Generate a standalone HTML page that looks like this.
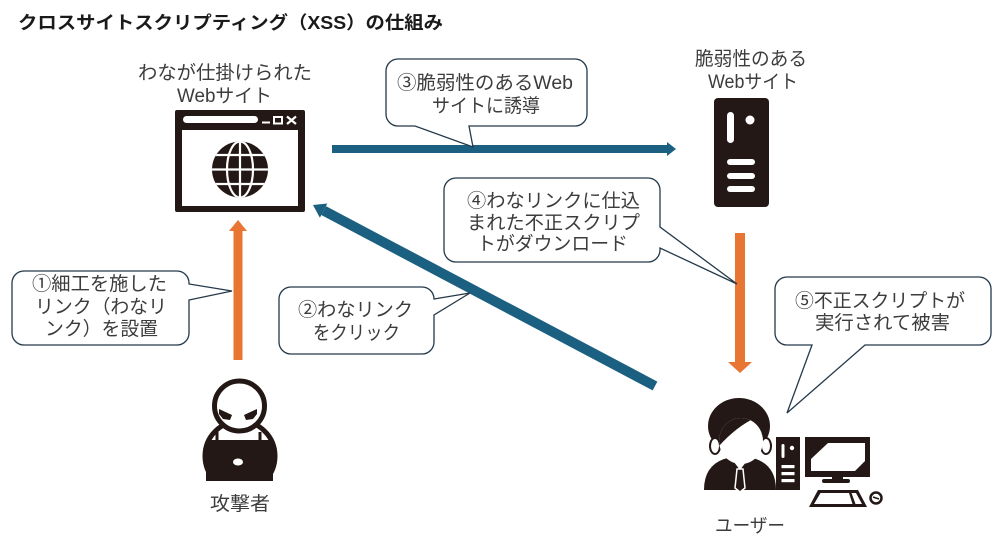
<!DOCTYPE html>
<html><head><meta charset="utf-8">
<style>
html,body{margin:0;padding:0;background:#fff;}
svg{display:block;}
text{font-family:"Liberation Sans","Noto Sans CJK JP",sans-serif;fill:#3c3c3c;}
</style></head>
<body>
<svg width="1000" height="546" viewBox="0 0 1000 546" xmlns="http://www.w3.org/2000/svg">
<defs>
<clipPath id="globe"><circle cx="240" cy="169.5" r="28"/></clipPath>
<clipPath id="bodyclip"><rect x="190" y="380" width="100" height="101"/></clipPath>
<clipPath id="face"><ellipse cx="741" cy="441" rx="22" ry="23"/></clipPath>
</defs>
<rect width="1000" height="546" fill="#fff"/>

<!-- Title -->
<text x="18" y="29" font-size="18" font-weight="bold" textLength="425" lengthAdjust="spacingAndGlyphs" style="fill:#1a1a1a">クロスサイトスクリプティング（XSS）の仕組み</text>

<!-- Labels -->
<text x="138" y="79" font-size="19" textLength="174" lengthAdjust="spacingAndGlyphs">わなが仕掛けられた</text>
<text x="177" y="102" font-size="19" textLength="95" lengthAdjust="spacingAndGlyphs">Webサイト</text>
<text x="695" y="65" font-size="19" textLength="112" lengthAdjust="spacingAndGlyphs">脆弱性のある</text>
<text x="708" y="88" font-size="19" textLength="90" lengthAdjust="spacingAndGlyphs">Webサイト</text>

<!-- Browser icon -->
<rect x="175" y="110" width="130" height="102" rx="2" fill="#231815"/>
<rect x="182" y="130" width="116" height="76" fill="#fff"/>
<rect x="183" y="116" width="75" height="7" rx="3.5" fill="#fff"/>
<rect x="262" y="121.5" width="8" height="2" fill="#fff"/>
<rect x="274" y="117" width="8" height="6.5" fill="none" stroke="#fff" stroke-width="2"/>
<path d="M287,116.5 L296,124 M296,116.5 L287,124" stroke="#fff" stroke-width="2.2"/>
<circle cx="240" cy="169.5" r="28" fill="#231815"/>
<g clip-path="url(#globe)" stroke="#fff" stroke-width="2.2" fill="none">
<line x1="205" y1="155" x2="275" y2="155"/>
<line x1="205" y1="169.5" x2="275" y2="169.5"/>
<line x1="205" y1="184" x2="275" y2="184"/>
<line x1="240" y1="138" x2="240" y2="200"/>
<ellipse cx="240" cy="169.5" rx="13" ry="28"/>
</g>

<!-- Server icon -->
<rect x="714" y="98" width="55" height="109" rx="4" fill="#231815"/>
<rect x="727" y="112" width="7" height="31" rx="3.5" fill="#fff"/>
<circle cx="750" cy="120" r="4.5" fill="#fff"/>
<rect x="727" y="159" width="28" height="6" rx="3" fill="#fff"/>
<rect x="727" y="173" width="28" height="6" rx="3" fill="#fff"/>
<rect x="727" y="186" width="28" height="6" rx="3" fill="#fff"/>

<!-- Blue horizontal arrow -->
<line x1="332" y1="149" x2="668" y2="149" stroke="#1b5f81" stroke-width="8"/>
<polygon points="667,142 676,149 667,156" fill="#1b5f81"/>

<!-- Blue diagonal arrow -->
<line x1="655" y1="386" x2="323.6" y2="210.6" stroke="#1b5f81" stroke-width="10"/>
<polygon points="313,205 327.3,203.5 319.9,217.7" fill="#1b5f81"/>

<!-- Orange up arrow -->
<line x1="238" y1="360" x2="238" y2="230" stroke="#e97532" stroke-width="9"/>
<polygon points="229,231 238,220 247,231" fill="#e97532"/>

<!-- Orange down arrow -->
<line x1="740" y1="233" x2="740" y2="363" stroke="#e97532" stroke-width="10"/>
<polygon points="728,362 752,362 740,373" fill="#e97532"/>

<!-- Bubbles -->
<g fill="#fff" stroke="#24394a" stroke-width="1.3" stroke-linejoin="miter">
<path d="M24,271 H177 A12,12 0 0 1 189,283 L189,284 L232,291 L189,300 V333 A12,12 0 0 1 177,345 H24 A12,12 0 0 1 12,333 V283 A12,12 0 0 1 24,271 Z"/>
<path d="M291,287 H422 A12,12 0 0 1 434,299 L470,293 L434,315 V342 A12,12 0 0 1 422,354 H291 A12,12 0 0 1 279,342 V299 A12,12 0 0 1 291,287 Z"/>
<path d="M398,59 H575 A12,12 0 0 1 587,71 V114 A12,12 0 0 1 575,126 H469 L473,147 L415,126 H398 A12,12 0 0 1 386,114 V71 A12,12 0 0 1 398,59 Z"/>
<path d="M456,178 H648 A12,12 0 0 1 660,190 V227 L737,284 L660,248 V250 A12,12 0 0 1 648,262 H456 A12,12 0 0 1 444,250 V190 A12,12 0 0 1 456,178 Z"/>
<path d="M787,277 H979 A12,12 0 0 1 991,289 V333 A12,12 0 0 1 979,345 H865 L787,413 L812,345 H787 A12,12 0 0 1 775,333 V289 A12,12 0 0 1 787,277 Z"/>
</g>

<!-- Bubble texts -->
<text x="32" y="290" font-size="19" textLength="135" lengthAdjust="spacingAndGlyphs">①細工を施した</text>
<text x="35" y="313" font-size="19" textLength="132" lengthAdjust="spacingAndGlyphs">リンク（わなリ</text>
<text x="45" y="335" font-size="19" textLength="113" lengthAdjust="spacingAndGlyphs">ンク）を設置</text>

<text x="298" y="316" font-size="19" textLength="115" lengthAdjust="spacingAndGlyphs">②わなリンク</text>
<text x="313" y="339" font-size="19" textLength="87" lengthAdjust="spacingAndGlyphs">をクリック</text>

<text x="397" y="89" font-size="19" textLength="176" lengthAdjust="spacingAndGlyphs">③脆弱性のあるWeb</text>
<text x="432" y="112" font-size="19" textLength="108" lengthAdjust="spacingAndGlyphs">サイトに誘導</text>

<text x="467" y="207" font-size="19" textLength="173" lengthAdjust="spacingAndGlyphs">④わなリンクに仕込</text>
<text x="467" y="229" font-size="19" textLength="173" lengthAdjust="spacingAndGlyphs">まれた不正スクリプ</text>
<text x="477" y="250" font-size="19" textLength="151" lengthAdjust="spacingAndGlyphs">トがダウンロード</text>

<text x="795" y="307" font-size="19" textLength="170" lengthAdjust="spacingAndGlyphs">⑤不正スクリプトが</text>
<text x="815" y="329" font-size="19" textLength="135" lengthAdjust="spacingAndGlyphs">実行されて被害</text>

<!-- Attacker -->
<g clip-path="url(#bodyclip)">
<circle cx="240" cy="456" r="35" fill="#ffffff" stroke="#231815" stroke-width="5"/>
</g>
<circle cx="239.5" cy="406" r="25" fill="#ffffff" stroke="#231815" stroke-width="5"/>
<polygon points="219,409 232,415 230,420 223,419 219,414" fill="#231815"/>
<polygon points="257,409 244,415 246,420 253,419 257,414" fill="#231815"/>
<rect x="206" y="440" width="67" height="41" fill="#231815"/>
<rect x="215.5" y="432" width="3" height="9" fill="#231815"/>
<rect x="258.5" y="432" width="3" height="9" fill="#231815"/>
<ellipse cx="238" cy="462" rx="5" ry="3.5" fill="#fff"/>
<text x="210" y="510" font-size="19" textLength="60" lengthAdjust="spacingAndGlyphs">攻撃者</text>

<!-- User -->
<path d="M704,490 Q704,466 724,459 L732,457 L748,457 L756,459 Q776,466 776,490 Z" fill="#231815"/>
<path d="M731,458 L740,470 L749,458 Z" fill="#fff"/>
<path d="M737,469 L743,469 L745,488 L740,492 L735,488 Z" fill="#231815" stroke="#fff" stroke-width="1.5"/>
<ellipse cx="739" cy="426" rx="31" ry="28" fill="#231815"/>
<ellipse cx="715" cy="446" rx="5" ry="8" fill="#fff" stroke="#231815" stroke-width="2"/>
<ellipse cx="766" cy="446" rx="5" ry="8" fill="#fff" stroke="#231815" stroke-width="2"/>
<ellipse cx="741" cy="441" rx="22" ry="23" fill="#fff"/>
<rect x="733" y="457" width="15" height="5" fill="#fff"/>
<path clip-path="url(#face)" d="M700,395 L780,395 L780,411 Q748,414 719,446 L700,446 Z" fill="#231815"/>

<rect x="776" y="437" width="24" height="53" fill="#231815"/>
<rect x="781.5" y="444" width="3" height="14" rx="1.5" fill="#fff"/>
<circle cx="792" cy="448" r="2.2" fill="#fff"/>
<rect x="781.5" y="465" width="13" height="3.2" fill="#fff"/>
<rect x="781.5" y="472" width="13" height="3.2" fill="#fff"/>
<rect x="781.5" y="479" width="13" height="3.2" fill="#fff"/>

<rect x="805" y="437" width="65" height="40" fill="#231815"/>
<rect x="811" y="443" width="54" height="28" fill="#fff"/>
<polygon points="811,443 828,443 811,459" fill="#231815"/>
<polygon points="865,461 865,471 855,471" fill="#231815"/>
<rect x="832" y="476" width="11" height="5" fill="#231815"/>
<rect x="822" y="479" width="28" height="4" rx="2" fill="#231815"/>

<polygon points="818,490 858,490 867,507 809,507" fill="#231815"/>
<polygon points="820.5,493 849,493 852.5,504 814,504" fill="#fff"/>
<polygon points="851.5,493 856,493 862,504 855.5,504" fill="#fff"/>
<circle cx="876" cy="498" r="5.5" fill="#fff" stroke="#231815" stroke-width="2.5"/>
<line x1="873" y1="497" x2="879" y2="499" stroke="#231815" stroke-width="1.5"/>

<text x="715" y="532" font-size="19" textLength="70" lengthAdjust="spacingAndGlyphs">ユーザー</text>
</svg>
</body></html>
